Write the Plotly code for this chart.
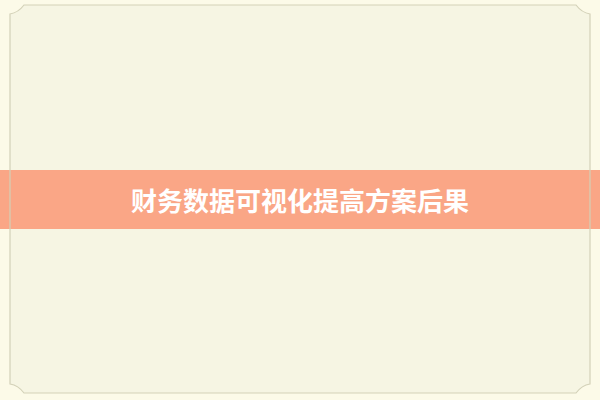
import plotly.graph_objects as go

# page size and banner text
width, height = 600, 400
title_text = "财务数据可视化提高方案后果"

# banner band (top, bottom) and frame inset
banner_y = [170, 229]
frame_x = [10, 590]
frame_y = [5, 393]

fig = go.Figure()

# invisible trace so the axes exist
fig.add_trace(go.Scatter(x=[0, width], y=[0, height], mode="markers",
                         marker=dict(opacity=0), hoverinfo="skip", showlegend=False))

x0, x1 = frame_x
y0, y1 = frame_y
n = 14  # notch size at the corners
frame_path = (
    f"M {x0},{y0+n-5} C {x0+6},{y0+n-6} {x0+11},{y0+4} {x0+n},{y0} "
    f"L {x1-n},{y0} C {x1-11},{y0+4} {x1-6},{y0+n-6} {x1},{y0+n-5} "
    f"L {x1},{y1-n+5} C {x1-6},{y1-n+6} {x1-11},{y1-4} {x1-n},{y1} "
    f"L {x0+n},{y1} C {x0+11},{y1-4} {x0+6},{y1-n+6} {x0},{y1-n+5} Z"
)

shapes = [
    # inner paper, a touch darker than the outer margin
    dict(type="path", path=frame_path, xref="x", yref="y",
         fillcolor="#F6F5E3", line=dict(width=0), layer="below"),
    # salmon banner across the full width
    dict(type="rect", xref="x", yref="y", x0=0, x1=width,
         y0=banner_y[0], y1=banner_y[1],
         fillcolor="#FAA686", line=dict(width=0), layer="above"),
    # thin frame line, drawn on top so it shows through the banner
    dict(type="path", path=frame_path, xref="x", yref="y",
         fillcolor="rgba(0,0,0,0)", line=dict(color="#D3D1B8", width=1.2),
         layer="above"),
]

fig.update_layout(
    width=width, height=height,
    margin=dict(l=0, r=0, t=0, b=0),
    paper_bgcolor="#FCFAE8",
    plot_bgcolor="rgba(0,0,0,0)",
    xaxis=dict(range=[0, width], visible=False, fixedrange=True),
    yaxis=dict(range=[height, 0], visible=False, fixedrange=True),
    shapes=shapes,
    annotations=[dict(
        x=width / 2, y=sum(banner_y) / 2, xref="x", yref="y",
        text=f"<b>{title_text}</b>", showarrow=False,
        font=dict(family="Noto Sans CJK SC", size=26, color="#FFFFFF"),
    )],
)

# drop the default body margin so the figure sits at the page corner
fig.write_html("out.html", config={"displayModeBar": False},
               post_script="document.body.style.margin='0';"
                           "document.body.style.background='#FCFAE8';")
